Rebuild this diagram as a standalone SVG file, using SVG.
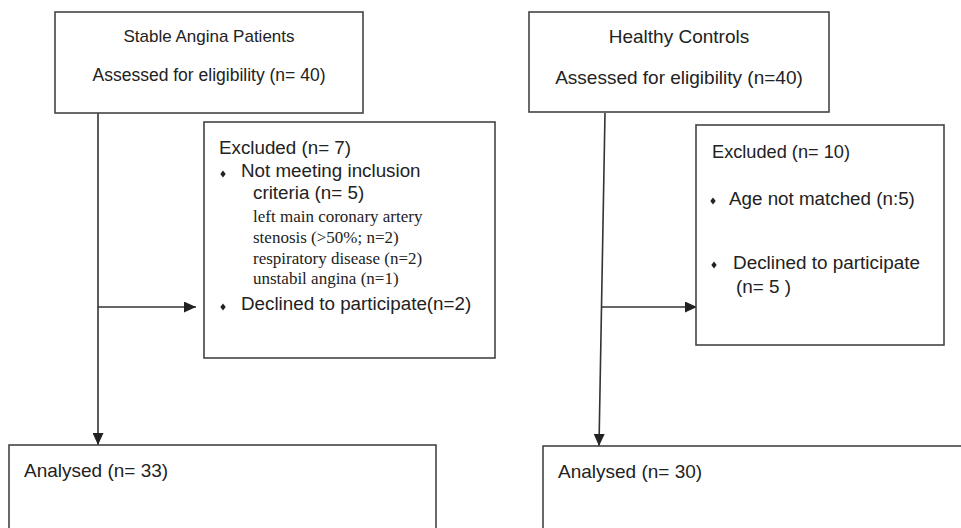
<svg xmlns="http://www.w3.org/2000/svg" width="961" height="528" viewBox="0 0 961 528">
<defs>
<marker id="ah" viewBox="0 0 12 11" refX="12" refY="5.5" markerWidth="12" markerHeight="11" markerUnits="userSpaceOnUse" orient="auto">
<path d="M0,0 L12,5.5 L0,11 z" fill="#222"/>
</marker>
</defs>
<style>
.box{fill:#fff;stroke:#444;stroke-width:1.6}
.t{font-family:"Liberation Sans",Arial,sans-serif;fill:#222}
.s{font-family:"Liberation Serif","Times New Roman",serif;fill:#222;font-size:17px}
.c{text-anchor:middle}
.ln{fill:none;stroke:#333;stroke-width:1.6}
.b{fill:#222}
</style>
<rect width="961" height="528" fill="#fff"/>
<g id="connectors">
<path class="ln" d="M98,113 L98,445" marker-end="url(#ah)"/>
<path class="ln" d="M98,307 L196,307" marker-end="url(#ah)"/>
<path class="ln" d="M605,113 L599,446" marker-end="url(#ah)"/>
<path class="ln" d="M601,307 L697,307" marker-end="url(#ah)"/>
</g>
<g id="sap">
<rect class="box" x="55" y="12" width="308" height="101"/>
<text class="t c" x="209" y="42" font-size="17">Stable Angina Patients</text>
<text class="t c" x="209" y="81" font-size="17.5">Assessed for eligibility (n= 40)</text>
</g>
<g id="hc">
<rect class="box" x="529" y="12" width="300" height="100"/>
<text class="t c" x="679" y="43" font-size="19">Healthy Controls</text>
<text class="t c" x="679" y="84" font-size="19">Assessed for eligibility (n=40)</text>
</g>
<g id="excl-left">
<rect class="box" x="204" y="122" width="291" height="236"/>
<text class="t" x="219" y="154" font-size="18.8">Excluded (n= 7)</text>
<path class="b" d="M223,170.5 L225.7,174 L223,177.5 L220.3,174 z"/>
<text class="t" x="241" y="177" font-size="18.8">Not meeting inclusion</text>
<text class="t" x="253" y="199" font-size="18.8">criteria (n= 5)</text>
<text class="s" x="253" y="222">left main coronary artery</text>
<text class="s" x="253" y="243">stenosis (&gt;50%; n=2)</text>
<text class="s" x="253" y="264">respiratory disease (n=2)</text>
<text class="s" x="253" y="284">unstabil angina (n=1)</text>
<path class="b" d="M223,303.5 L225.7,307 L223,310.5 L220.3,307 z"/>
<text class="t" x="241" y="310" font-size="18.8">Declined to participate(n=2)</text>
</g>
<g id="excl-right">
<rect class="box" x="696" y="125" width="248" height="220"/>
<text class="t" x="712" y="158" font-size="18.2">Excluded (n= 10)</text>
<path class="b" d="M713,197.5 L715.7,201 L713,204.5 L710.3,201 z"/>
<text class="t" x="729" y="205" font-size="18.8">Age not matched (n:5)</text>
<path class="b" d="M714,261.5 L716.7,265 L714,268.5 L711.3,265 z"/>
<text class="t" x="733" y="269" font-size="18.9">Declined to participate</text>
<text class="t" x="736" y="293" font-size="18.9">(n= 5 )</text>
</g>
<g id="analysed-left">
<rect class="box" x="9" y="445" width="427" height="100"/>
<text class="t" x="24" y="477" font-size="19">Analysed (n= 33)</text>
</g>
<g id="analysed-right">
<rect class="box" x="543" y="446" width="430" height="100"/>
<text class="t" x="558" y="478" font-size="19">Analysed (n= 30)</text>
</g>
</svg>
